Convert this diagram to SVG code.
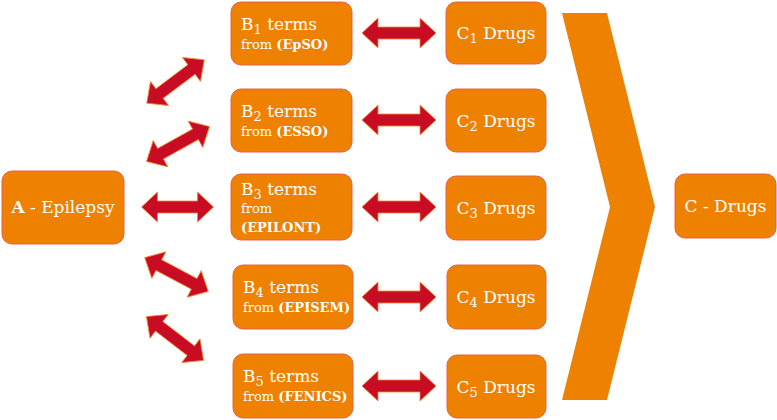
<svg xmlns="http://www.w3.org/2000/svg" xmlns:xlink="http://www.w3.org/1999/xlink" width="777" height="420" viewBox="0 0 777 420">
<style>
.box{fill:#EE8100;stroke:#E8604A;stroke-width:1}
.arr{fill:#C80C24;stroke:#F08A30;stroke-width:0.8}
text{font-family:"DejaVu Serif","Liberation Serif",serif;fill:#fff}
.t{font-size:17px}
.s{font-size:13px}
.b{font-weight:bold}
</style>
<defs>
<path id="a72" d="M-36,0 L-20,-15 L-20,-6 L20,-6 L20,-15 L36,0 L20,15 L20,6 L-20,6 L-20,15 Z"/>
<path id="a74" d="M-37,0 L-21,-15 L-21,-6 L21,-6 L21,-15 L37,0 L21,15 L21,6 L-21,6 L-21,15 Z"/>
</defs>
<g id="connectors">
<use href="#a72" class="arr" transform="translate(175.5,81.5) rotate(-37)"/>
<use href="#a72" class="arr" transform="translate(178,144) rotate(-29)"/>
<use href="#a72" class="arr" transform="translate(177.5,207)"/>
<use href="#a72" class="arr" transform="translate(176.5,274.5) rotate(28)"/>
<use href="#a72" class="arr" transform="translate(175,338.5) rotate(37.5)"/>
<use href="#a74" class="arr" transform="translate(399,33)"/>
<use href="#a74" class="arr" transform="translate(399,120)"/>
<use href="#a74" class="arr" transform="translate(399,207)"/>
<use href="#a74" class="arr" transform="translate(399,297)"/>
<use href="#a74" class="arr" transform="translate(399,386)"/>
<polygon points="562,13 607,13 655,207 607,400 562,400 610,207" fill="#EE8100"/>
</g>
<g id="A"><rect class="box" x="2" y="171" width="122" height="73" rx="10"/><text class="t" x="63" y="213" text-anchor="middle"><tspan class="b">A</tspan> - Epilepsy</text></g>
<g id="B1"><rect class="box" x="231" y="2" width="121" height="63" rx="10"/><text class="t" x="241" y="30">B<tspan class="s" dy="4">1</tspan><tspan dy="-4"> terms</tspan></text><text class="s" x="241" y="49">from <tspan class="b">(EpSO)</tspan></text></g>
<g id="B2"><rect class="box" x="231" y="89" width="121" height="63" rx="10"/><text class="t" x="241" y="117">B<tspan class="s" dy="4">2</tspan><tspan dy="-4"> terms</tspan></text><text class="s" x="241" y="136">from <tspan class="b">(ESSO)</tspan></text></g>
<g id="B3"><rect class="box" x="231" y="174" width="121" height="66" rx="10"/><text class="t" x="241" y="195">B<tspan class="s" dy="4">3</tspan><tspan dy="-4"> terms</tspan></text><text class="s" x="241" y="213">from</text><text class="s b" x="241" y="232">(EPILONT)</text></g>
<g id="B4"><rect class="box" x="233" y="265" width="120" height="64" rx="10"/><text class="t" x="243" y="293">B<tspan class="s" dy="4">4</tspan><tspan dy="-4"> terms</tspan></text><text class="s" x="243" y="312">from <tspan class="b">(EPISEM)</tspan></text></g>
<g id="B5"><rect class="box" x="233" y="354" width="120" height="64" rx="10"/><text class="t" x="243" y="382">B<tspan class="s" dy="4">5</tspan><tspan dy="-4"> terms</tspan></text><text class="s" x="243" y="401">from <tspan class="b">(FENICS)</tspan></text></g>
<g id="C1"><rect class="box" x="446" y="2" width="100" height="62" rx="10"/><text class="t" x="496" y="39" text-anchor="middle">C<tspan class="s" dy="4">1</tspan><tspan dy="-4"> Drugs</tspan></text></g>
<g id="C2"><rect class="box" x="446" y="89" width="100" height="63" rx="10"/><text class="t" x="496" y="127" text-anchor="middle">C<tspan class="s" dy="4">2</tspan><tspan dy="-4"> Drugs</tspan></text></g>
<g id="C3"><rect class="box" x="446" y="176" width="100" height="64" rx="10"/><text class="t" x="496" y="214" text-anchor="middle">C<tspan class="s" dy="4">3</tspan><tspan dy="-4"> Drugs</tspan></text></g>
<g id="C4"><rect class="box" x="447" y="265" width="99" height="64" rx="10"/><text class="t" x="496" y="303" text-anchor="middle">C<tspan class="s" dy="4">4</tspan><tspan dy="-4"> Drugs</tspan></text></g>
<g id="C5"><rect class="box" x="447" y="355" width="99" height="63" rx="10"/><text class="t" x="496" y="393" text-anchor="middle">C<tspan class="s" dy="4">5</tspan><tspan dy="-4"> Drugs</tspan></text></g>
<g id="C"><rect class="box" x="675" y="174" width="101" height="64" rx="10"/><text class="t" x="725.5" y="212" text-anchor="middle">C - Drugs</text></g>
</svg>
